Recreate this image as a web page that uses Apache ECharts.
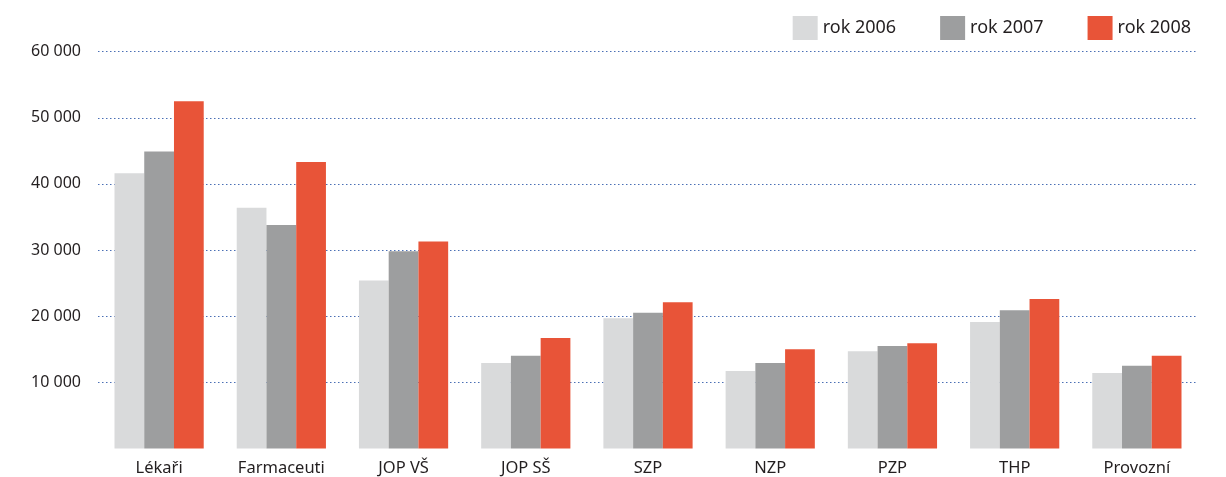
<!DOCTYPE html>
<html><head><meta charset="utf-8">
<script src="https://cdn.jsdelivr.net/npm/echarts@6/dist/echarts.min.js"></script>
<style>html,body{margin:0;padding:0;background:#fff}#c{width:1226px;height:477px}</style>
</head><body><div id="c"></div>
<script>
const categories = ['Lékaři','Farmaceuti','JOP VŠ','JOP SŠ','SZP','NZP','PZP','THP','Provozní'];
const seriesNames = ['rok 2006','rok 2007','rok 2008'];
const values2006 = [41600, 36400, 25400, 12900, 19700, 11700, 14700, 19100, 11400];
const values2007 = [44900, 33800, 29800, 14000, 20500, 12900, 15500, 20900, 12500];
const values2008 = [52500, 43300, 31300, 16700, 22100, 15000, 15900, 22600, 14000];
const yTicks = [0, 10000, 20000, 30000, 40000, 50000, 60000];
const colors = ['#d9dadb','#9d9e9f','#e85438'];
const font = 'Noto Sans';
const chart = echarts.init(document.getElementById('c'), null, {renderer:'canvas'});
const data = [values2006, values2007, values2008];
const gridLines = yTicks.filter(v => v > 0).map(v => ({yAxis: v}));
chart.setOption({
  animation:false,
  textStyle:{fontFamily:font},
  legend:{right:30, top:11, itemWidth:25, itemHeight:24, itemGap:44, icon:'rect',
    textStyle:{fontSize:18, color:'#231f20', fontFamily:font},
    data:seriesNames},
  grid:{left:98, right:28, top:51.7, bottom:28.6, containLabel:false},
  xAxis:{type:'category', data:categories, axisLine:{show:false}, axisTick:{show:false},
    axisLabel:{fontSize:16.5, color:'#231f20', margin:11, fontFamily:font}},
  yAxis:{type:'value', min:yTicks[0], max:yTicks[yTicks.length-1], interval:10000,
    axisLine:{show:false}, axisTick:{show:false},
    axisLabel:{fontSize:16, color:'#231f20', margin:17, fontFamily:font,
      formatter:v=> v===0 ? '' : String(v).replace(/\B(?=(\d{3})+(?!\d))/g,' ')},
    splitLine:{show:false}},
  series: seriesNames.map((n,i)=>({name:n, type:'bar', data:data[i], barGap:'0%', barCategoryGap:'27%',
    itemStyle:{color:colors[i]}, z: 3,
    markLine: i===0 ? {silent:true, symbol:'none', label:{show:false}, z:1,
      lineStyle:{color:'#4a6fb5', type:[1.5,2.5], width:1}, data:gridLines} : undefined}))
});
</script></body></html>
